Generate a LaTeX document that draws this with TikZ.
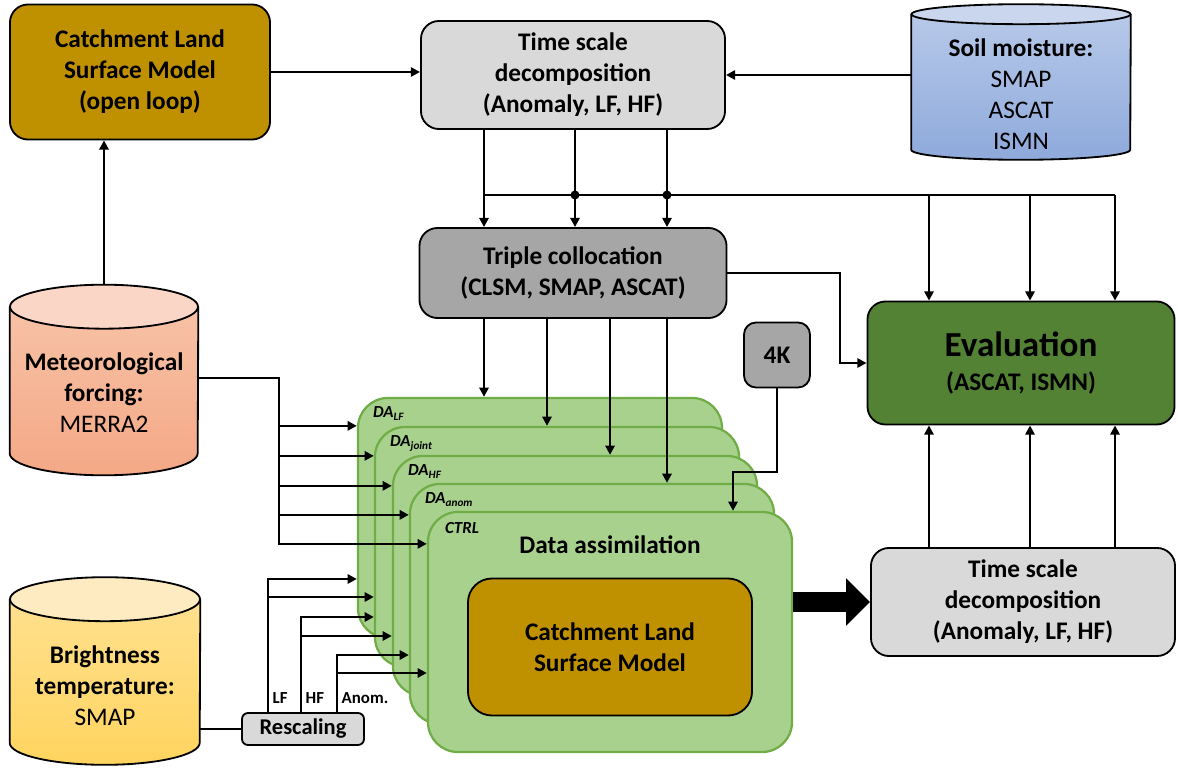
\documentclass[tikz,border=0pt]{standalone}
\usepackage{fontspec}
\setmainfont{Carlito}
\usepackage{tikz}
\usetikzlibrary{positioning}
\usetikzlibrary{calc}
\usetikzlibrary{arrows.meta}

\definecolor{lsmbrown}{HTML}{BF9000}
\definecolor{lightgray}{HTML}{D9D9D9}
\definecolor{midgray}{HTML}{A6A6A6}
\definecolor{evalgreen}{HTML}{548235}
\definecolor{dafill}{HTML}{A9D18E}
\definecolor{daline}{HTML}{70AD47}
\definecolor{soiltop}{HTML}{B7C9E9}
\definecolor{soilbot}{HTML}{8EA9DB}
\definecolor{soilend}{HTML}{C9D6EE}
\definecolor{mettop}{HTML}{F7C2A6}
\definecolor{metbot}{HTML}{F4A886}
\definecolor{metend}{HTML}{FAD6C6}
\definecolor{bttop}{HTML}{FFE08E}
\definecolor{btbot}{HTML}{FFD45F}
\definecolor{btend}{HTML}{FFEBC2}

\begin{document}
\begin{tikzpicture}[
  x=0.025cm, y=-0.025cm,
  >={Triangle[length=6.5pt,width=6.5pt]},
  font=\fontsize{18}{22}\selectfont\bfseries,
  blk/.style={
      draw,
      line width=1.3pt,
      rounded corners=0.45cm,
      align=center,
      inner sep=0pt
  },
  lsm/.style={blk, fill=lsmbrown},
  tsd/.style={
      blk,
      fill=lightgray,
      minimum width=7.6cm,
      minimum height=2.7cm
  },
  storebox/.style={inner sep=0pt},
  store/.style={draw, line width=1.3pt},
  storetext/.style={align=center},
  da/.style={
      draw=daline,
      line width=1.6pt,
      fill=dafill,
      rounded corners=0.75cm,
      minimum width=9.1cm,
      minimum height=6cm
  },
  dalab/.style={font=\fontsize{12}{14}\selectfont\bfseries\itshape, anchor=base west, inner sep=0pt},
  tag/.style={font=\fontsize{12}{14}\selectfont\bfseries, anchor=west, inner sep=1pt},
  wire/.style={line width=1.9pt}
]
\useasboundingbox (0,0) rectangle (1178,768);

\node[lsm, minimum width=6.5cm, minimum height=3.375cm] (clol) at (140,72)
{Catchment Land\\Surface Model\\(open loop)};

\node[tsd] (tsdtop) at (573,75)
{Time scale\\decomposition\\(Anomaly, LF, HF)};

% data sources (drums)
\node[storebox, minimum width=5.475cm, minimum height=3.875cm] (soil) at (1021,82) {};
\draw[store, top color=soiltop, bottom color=soilbot]
  ($(soil.north west)+(0,10)$) -- ($(soil.south west)+(0,-10)$)
  arc[start angle=180, end angle=0, x radius=109.5, y radius=10]
  -- ($(soil.north east)+(0,10)$);
\draw[store, fill=soilend] ($(soil.north)+(0,10)$) ellipse[x radius=109.5, y radius=10];
\node[storetext] (soiltext) at (1021,94)
{Soil moisture:\\\mdseries SMAP\\\mdseries ASCAT\\\mdseries ISMN};

\node[storebox, minimum width=4.7cm, minimum height=4.75cm] (met) at (104,380) {};
\draw[store, top color=mettop, bottom color=metbot]
  ($(met.north west)+(0,22)$) -- ($(met.south west)+(0,-22)$)
  arc[start angle=180, end angle=0, x radius=94, y radius=22]
  -- ($(met.north east)+(0,22)$);
\draw[store, fill=metend] ($(met.north)+(0,22)$) ellipse[x radius=94, y radius=22];
\node[storetext] (mettext) at (104,393)
{Meteorological\\forcing:\\\mdseries MERRA2};

\node[storebox, minimum width=4.75cm, minimum height=4.675cm] (bt) at (105,671) {};
\draw[store, top color=bttop, bottom color=btbot]
  ($(bt.north west)+(0,22)$) -- ($(bt.south west)+(0,-22)$)
  arc[start angle=180, end angle=0, x radius=95, y radius=22]
  -- ($(bt.north east)+(0,22)$);
\draw[store, fill=btend] ($(bt.north)+(0,22)$) ellipse[x radius=95, y radius=22];
\node[storetext] (bttext) at (105,686)
{Brightness\\temperature:\\\mdseries SMAP};

\node[blk, fill=midgray, minimum width=7.675cm, minimum height=2.25cm] (tc) at (573,273)
{Triple collocation\\(CLSM, SMAP, ASCAT)};

\node[blk, fill=midgray, rounded corners=0.3cm, minimum width=1.65cm, minimum height=1.625cm] (fourk) at (777,355)
{4K};

\node[blk, fill=evalgreen, minimum width=7.675cm, minimum height=3.075cm] (eval) at (1021,363)
{{\fontsize{25}{30}\selectfont Evaluation}\\[2pt](ASCAT, ISMN)};

\node[tsd] (tsdbot) at (1023,602)
{Time scale\\decomposition\\(Anomaly, LF, HF)};

\node[blk, fill=lightgray, rounded corners=0.15cm, minimum width=3.05cm, minimum height=0.8cm,
      font=\fontsize{16}{19}\selectfont\bfseries] (resc) at (303,729)
{Rescaling};

% stacked experiments
\node[da] (dalf) at (540,518) {};
\node[da] (dajoint) at (557,547) {};
\node[da] (dahf) at (575,576) {};
\node[da] (daanom) at (592,604) {};
\node[da] (ctrl) at (610,632) {};

\node[dalab] (dalflab) at ($(dalf.north west)+(16,21)$) {DA\textsubscript{LF}};
\node[dalab] (djlab) at ($(dajoint.north west)+(16,21)$) {DA\textsubscript{joint}};
\node[dalab] (dhlab) at ($(dahf.north west)+(16,21)$) {DA\textsubscript{HF}};
\node[dalab] (dalab2) at ($(daanom.north west)+(16,21)$) {DA\textsubscript{anom}};
\node[dalab] (ctrllab) at ($(ctrl.north west)+(18,23)$) {CTRL};

\node (datitle) at ($(ctrl.north)+(0,34)$) {Data assimilation};

\node[lsm, rounded corners=0.6cm, minimum width=7.1cm, minimum height=3.425cm] (clsm) at ($(ctrl.center)+(0,15)$)
{Catchment Land\\Surface Model};

% top row
\draw[wire,->] (clol.east) -- (clol.east -| tsdtop.west);
\draw[wire,->] (tsdtop.east -| soil.west) -- (tsdtop.east);
\draw[wire,->] (met.north) -- (met.north |- clol.south);

% decomposition to collocation and evaluation
\coordinate (ts1) at (484,195);
\coordinate (ts2) at (575,195);
\coordinate (ts3) at (667,195);
\coordinate (ev1) at (929,195);
\coordinate (ev2) at (1030,195);
\coordinate (ev3) at (1115,195);

\draw[wire,->] (tsdtop.south -| ts1) -- (tc.north -| ts1);
\draw[wire,->] (tsdtop.south -| ts2) -- (tc.north -| ts2);
\draw[wire,->] (tsdtop.south -| ts3) -- (tc.north -| ts3);
\draw[wire] (ts1) -- (ev3);
\fill (ts2) circle[radius=3.2pt];
\fill (ts3) circle[radius=3.2pt];
\draw[wire,->] (ev1) -- (eval.north -| ev1);
\draw[wire,->] (ev2) -- (eval.north -| ev2);
\draw[wire,->] (ev3) -- (eval.north -| ev3);

\draw[wire,->] (tsdbot.north -| ev1) -- (eval.south -| ev1);
\draw[wire,->] (tsdbot.north -| ev2) -- (eval.south -| ev2);
\draw[wire,->] (tsdbot.north -| ev3) -- (eval.south -| ev3);

% collocation to experiments
\coordinate (tcx2) at (547,0);
\coordinate (tcx3) at (610,0);
\draw[wire,->] (tc.south -| ts1) -- (dalf.north -| ts1);
\draw[wire,->] (tc.south -| tcx2) -- (dajoint.north -| tcx2);
\draw[wire,->] (tc.south -| tcx3) -- (dahf.north -| tcx3);
\draw[wire,->] (tc.south -| ts3) -- (daanom.north -| ts3);

\coordinate (tcbend) at (840,273);
\draw[wire,->] (tc.east) -- (tcbend) |- (eval.west);

\coordinate (kbend) at (733,472);
\draw[wire,->] (fourk.south) |- (kbend) -- (kbend |- ctrl.north);

% forcing
\coordinate (metout) at (200,378);
\coordinate (metend) at (279,545);
\coordinate (in1) at ($(dalf.north west)+(0,29)$);
\coordinate (in2) at ($(dajoint.north west)+(0,30)$);
\coordinate (in3) at ($(dahf.north west)+(0,31)$);
\coordinate (in4) at ($(daanom.north west)+(0,32)$);
\coordinate (in5) at ($(ctrl.north west)+(0,33)$);
\draw[wire] (met.east |- metout) -| (metend);
\draw[wire,->] (metend |- in1) -- (in1);
\draw[wire,->] (metend |- in2) -- (in2);
\draw[wire,->] (metend |- in3) -- (in3);
\draw[wire,->] (metend |- in4) -- (in4);
\draw[wire,->] (metend |- in5) -- (in5);

% rescaled brightness temperature
\draw[wire] (bt.east |- resc.west) -- (resc.west);
\coordinate (lf) at (268,579);
\coordinate (lf2) at (268,597);
\coordinate (hf) at (301,617);
\coordinate (hf2) at (301,636);
\coordinate (an) at (337,655);
\coordinate (an2) at (337,673);
\draw[wire,->] (resc.north -| lf) -- (lf) -- (lf -| dalf.west);
\draw[wire,->] (lf2) -- (lf2 -| dajoint.west);
\draw[wire,->] (resc.north -| hf) -- (hf) -- (hf -| dajoint.west);
\draw[wire,->] (hf2) -- (hf2 -| dahf.west);
\draw[wire,->] (resc.north -| an) -- (an) -- (an -| daanom.west);
\draw[wire,->] (an2) -- (an2 -| ctrl.west);

\node[tag] (lflab) at (271,698) {LF};
\node[tag] (hflab) at (304,698) {HF};
\node[tag] (anlab) at (340,698) {Anom.};

\draw[line width=0.5cm, -{Triangle[length=0.6cm,width=1.15cm]}] (ctrl.east |- tsdbot.west) -- (tsdbot.west);

\end{tikzpicture}
\end{document}
